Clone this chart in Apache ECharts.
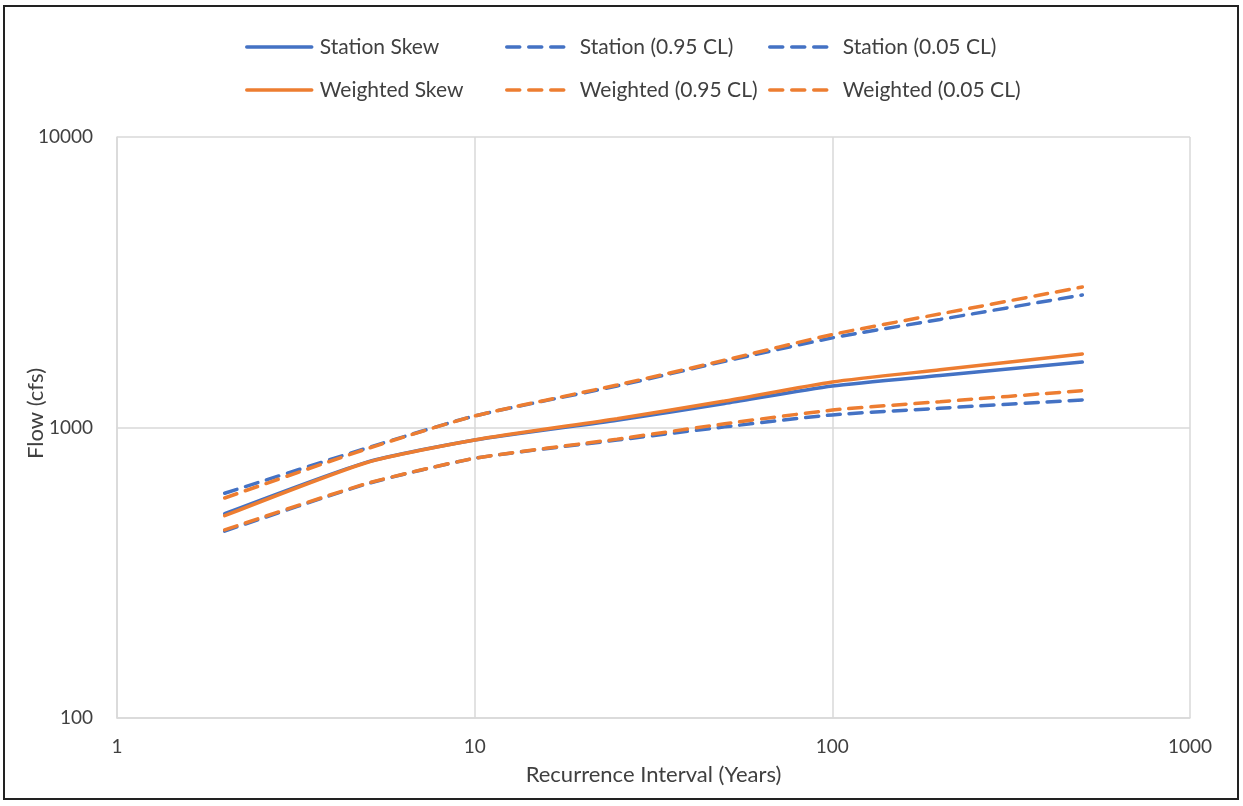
<!DOCTYPE html>
<html>
<head>
<meta charset="utf-8">
<script src="https://cdn.jsdelivr.net/npm/echarts@6/dist/echarts.min.js"></script>
<style>
html,body{margin:0;padding:0;background:#fff;}
#frame{position:absolute;left:3px;top:5px;width:1236px;height:795px;border:2px solid #222;box-sizing:border-box;}
#chart{position:absolute;left:0;top:0;width:1243px;height:806px;}
</style>
</head>
<body>
<div id="frame"></div>
<div id="chart"></div>
<script>
const returnPeriods = [2, 5, 10, 25, 50, 100, 200, 500];
const stationSkew   = [505, 760, 906, 1060, 1210, 1390, 1510, 1680];
const station95     = [594, 850, 1096, 1390, 1690, 2035, 2355, 2860];
const station05     = [440, 640, 783, 905, 1005, 1105, 1165, 1244];
const weightedSkew  = [497, 758, 906, 1072, 1233, 1435, 1580, 1790];
const weighted95    = [572, 845, 1096, 1400, 1705, 2090, 2460, 3045];
const weighted05    = [444, 642, 783, 912, 1030, 1148, 1227, 1339];
const seriesNames = ['Station Skew','Station (0.95 CL)','Station (0.05 CL)','Weighted Skew','Weighted (0.95 CL)','Weighted (0.05 CL)'];
const seriesValues = [stationSkew, station95, station05, weightedSkew, weighted95, weighted05];
const xTicks = ['1','10','100','1000'];
const yTicks = ['100','1000','10000'];

const BLUE = '#4472C4', ORANGE = '#ED7D31';
const FONT = 'Lato, sans-serif';
const TXT = '#404040';
const colors = [BLUE, BLUE, BLUE, ORANGE, ORANGE, ORANGE];
const dashed = [false, true, true, false, true, true];

const series = seriesNames.map((n, i) => ({
  name: n,
  type: 'line',
  data: returnPeriods.map((x, j) => [x, seriesValues[i][j]]),
  symbol: 'none',
  smooth: 0.2,
  color: colors[i],
  lineStyle: { width: 3.5, color: colors[i], type: dashed[i] ? [13, 9] : 'solid', cap: 'round' },
  z: i
}));

const legendPos = [[245,35],[505,35],[768,35],[245,78],[505,78],[768,78]];
const legends = seriesNames.map((n, i) => ({
  data: [n],
  left: legendPos[i][0], top: legendPos[i][1],
  padding: 0,
  itemWidth: 65, itemHeight: 24, itemGap: 0,
  itemStyle: { opacity: 0 },
  lineStyle: { width: 3.5 },
  textStyle: { fontFamily: FONT, fontSize: 21, lineHeight: 24, color: TXT, padding: [0,0,0,3] },
  selectedMode: false
}));

const chart = echarts.init(document.getElementById('chart'));
chart.setOption({
  backgroundColor: 'transparent',
  animation: false,
  legend: legends,
  grid: { left: 117, top: 137, right: 53, bottom: 88, containLabel: false },
  xAxis: {
    type: 'log', logBase: 10, min: 1, max: 1000,
    name: 'Recurrence Interval (Years)', nameLocation: 'middle', nameGap: 46,
    nameMoveOverlap: false,
    nameTextStyle: { fontFamily: FONT, fontSize: 22, color: TXT },
    axisLine: { lineStyle: { color: '#d9d9d9', width: 1.5 } },
    axisTick: { show: false },
    splitLine: { show: true, lineStyle: { color: '#d9d9d9', width: 1.5 } },
    axisLabel: { fontFamily: FONT, fontSize: 19, color: TXT, margin: 19,
      formatter: v => xTicks.find(t => Number(t) === Math.round(v)) || '' }
  },
  yAxis: {
    type: 'log', logBase: 10, min: 100, max: 10000,
    name: 'Flow (cfs)', nameLocation: 'middle', nameGap: 70, nameRotate: 90,
    nameMoveOverlap: false,
    nameTextStyle: { fontFamily: FONT, fontSize: 22, color: TXT, padding: [0, 0, 0, 28] },
    axisLine: { show: true, lineStyle: { color: '#d9d9d9', width: 1.5 } },
    axisTick: { show: false },
    splitLine: { show: true, lineStyle: { color: '#d9d9d9', width: 1.5 } },
    axisLabel: { fontFamily: FONT, fontSize: 19, color: TXT, margin: 24,
      formatter: v => yTicks.find(t => Number(t) === Math.round(v)) || '' }
  },
  series: series
});
</script>
</body>
</html>
